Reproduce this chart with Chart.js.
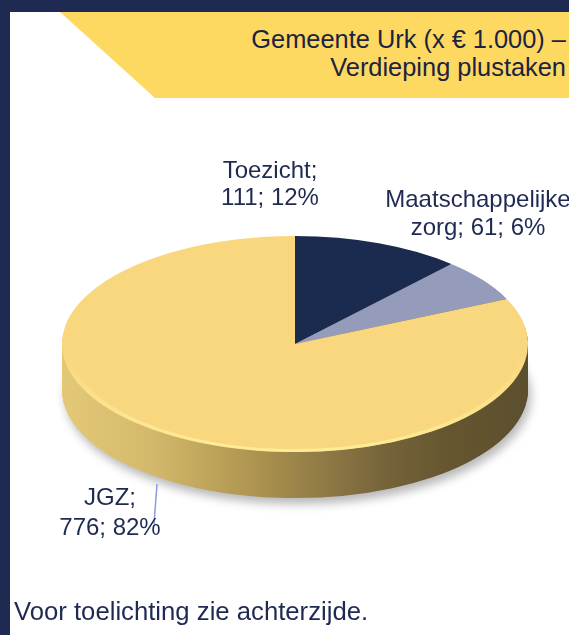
<!DOCTYPE html>
<html>
<head>
<meta charset="utf-8">
<script src="https://cdn.jsdelivr.net/npm/chart.js@4.4.1/dist/chart.umd.min.js"></script>
<style>
    html, body { margin: 0; padding: 0; width: 569px; height: 635px; overflow: hidden; background: #fff; }
    body { font-family: Arial, 'Liberation Sans', sans-serif; color: #1f2a52; }
    #frame { position: absolute; left: 0; top: 0; width: 569px; height: 635px; box-sizing: border-box;
        border-left: 10px solid #1f2a52; border-top: 12px solid #1f2a52; }
    #band { position: absolute; left: 10px; top: 12px; width: 559px; height: 86px; background: #fdd962;
        clip-path: polygon(50px 0, 100% 0, 100% 100%, 145px 100%); }
    #title { position: absolute; right: 3px; top: 25px; text-align: right; white-space: nowrap;
        font-size: 25.4px; line-height: 28px; color: #1c2340; }
    #foot { position: absolute; left: 14px; top: 597px; white-space: nowrap; font-size: 25.7px; }
    canvas { position: absolute; left: 0; top: 0; }
</style>
</head>
<body>
<div id="frame"></div>
<div id="band"></div>
<div id="title">Gemeente Urk (x € 1.000) –<br>Verdieping plustaken</div>
<canvas id="pie" width="569" height="635"></canvas>
<div id="foot">Voor toelichting zie achterzijde.</div>
<script>
const categories = ['Toezicht', 'Maatschappelijke zorg', 'JGZ']
const values = [111, 61, 776]
const colors = ['#1b2a4f', '#949bbb', '#f9d77e']

// label placement: centre x, first baseline, line height
const labelLayout = [
    { x: 270, y: 178, lh: 27 },
    { x: 478, y: 207, lh: 28 },
    { x: 110, y: 505, lh: 30 },
]
const tilt = 108 / 233
const depth = 46

const total = values.reduce((a, b) => a + b, 0)
const pct = (i) => Math.round((values[i] / total) * 100)

function labelLines(i) {
    const rest = values[i] + '; ' + pct(i) + '%'
    const words = categories[i].split(' ')
    if (words.length > 1)
        return [words.slice(0, -1).join(' '), words[words.length - 1] + '; ' + rest]
    return [categories[i] + ';', rest]
}

function paintWith(arc, ctx, extra) {
    const o = arc.options
    arc.options = { ...o, ...extra }
    arc.draw(ctx)
    arc.options = o
}

const pie3d = {
    id: 'pie3d',
    beforeDatasetsDraw(chart) {
        const ctx = chart.ctx,
            arcs = chart.getDatasetMeta(0).data,
            cx = arcs[0].x,
            cy = arcs[0].y,
            r = arcs[0].outerRadius
        ctx.save()
        ctx.translate(0, cy)
        ctx.scale(1, tilt)
        ctx.translate(0, -cy)
        const side = ctx.createLinearGradient(cx - r, 0, cx + r, 0)
        side.addColorStop(0, '#e3c977')
        side.addColorStop(0.19, '#d4b96c')
        side.addColorStop(0.4, '#b09650')
        side.addColorStop(0.51, '#9a834a')
        side.addColorStop(0.69, '#76643a')
        side.addColorStop(0.83, '#65562f')
        side.addColorStop(1, '#5c4f2e')
        for (let d = depth; d >= 1; d--) {
            ctx.save()
            if (d == depth) {
                ctx.shadowColor = 'rgba(0,0,0,0.28)'
                ctx.shadowBlur = 10
                ctx.shadowOffsetX = 3
                ctx.shadowOffsetY = 6
            }
            ctx.translate(0, d / tilt)
            arcs.forEach((a) => paintWith(a, ctx, { backgroundColor: side, borderWidth: 0 }))
            ctx.restore()
        }
    },
    afterDatasetsDraw(chart) {
        const ctx = chart.ctx,
            arcs = chart.getDatasetMeta(0).data,
            cy = arcs[0].y,
            r = arcs[0].outerRadius
        // soft bevel highlight along the front rim
        const rim = ctx.createLinearGradient(0, cy + 0.1 * r, 0, cy + r)
        rim.addColorStop(0, 'rgba(255,244,170,0)')
        rim.addColorStop(1, 'rgba(255,244,160,0.75)')
        paintWith(arcs[2], ctx, {
            backgroundColor: 'rgba(0,0,0,0)',
            borderWidth: 6,
            borderAlign: 'inner',
            borderColor: rim,
        })
        ctx.restore()
    },
    afterDraw(chart) {
        const ctx = chart.ctx
        ctx.save()
        // leader line for JGZ
        ctx.strokeStyle = '#8d9dda'
        ctx.lineWidth = 1.5
        ctx.beginPath()
        ctx.moveTo(157, 484)
        ctx.lineTo(154, 524)
        ctx.stroke()
        ctx.fillStyle = '#1f2a52'
        ctx.font = '24px Arial, "Liberation Sans", sans-serif'
        ctx.textAlign = 'center'
        ctx.textBaseline = 'alphabetic'
        categories.forEach((c, i) => {
            const pos = labelLayout[i]
            labelLines(i).forEach((line, k) => ctx.fillText(line, pos.x, pos.y + k * pos.lh))
        })
        ctx.restore()
    },
}

new Chart(document.getElementById('pie'), {
    type: 'pie',
    data: {
        labels: categories,
        datasets: [
            {
                data: values,
                backgroundColor: colors,
                borderWidth: 0,
                clip: false,
            },
        ],
    },
    options: {
        responsive: false,
        animation: false,
        layout: { padding: { left: 62, right: 41, top: 111, bottom: 58 } },
        plugins: {
            legend: { display: false },
            tooltip: { enabled: false },
        },
    },
    plugins: [pie3d],
})
</script>
</body>
</html>
